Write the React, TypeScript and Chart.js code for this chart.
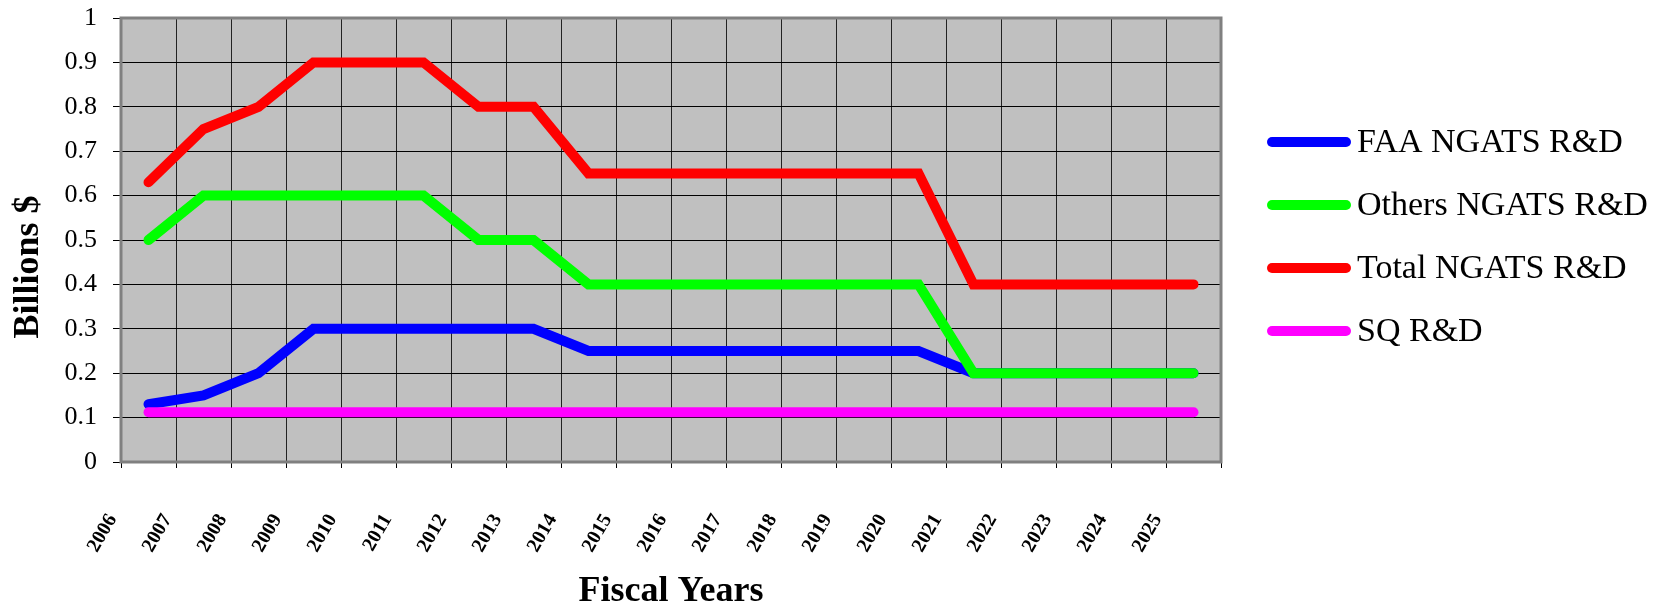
import React, { useEffect, useRef } from "react";
import { Chart, registerables } from "chart.js";

Chart.register(...registerables);

const years = [
  "2006", "2007", "2008", "2009", "2010", "2011", "2012", "2013", "2014", "2015",
  "2016", "2017", "2018", "2019", "2020", "2021", "2022", "2023", "2024", "2025",
];
const faaNgats = [0.13, 0.15, 0.2, 0.3, 0.3, 0.3, 0.3, 0.3, 0.25, 0.25, 0.25, 0.25, 0.25, 0.25, 0.25, 0.2, 0.2, 0.2, 0.2, 0.2];
const othersNgats = [0.5, 0.6, 0.6, 0.6, 0.6, 0.6, 0.5, 0.5, 0.4, 0.4, 0.4, 0.4, 0.4, 0.4, 0.4, 0.2, 0.2, 0.2, 0.2, 0.2];
const totalNgats = [0.63, 0.75, 0.8, 0.9, 0.9, 0.9, 0.8, 0.8, 0.65, 0.65, 0.65, 0.65, 0.65, 0.65, 0.65, 0.4, 0.4, 0.4, 0.4, 0.4];
const sqRD = [0.112, 0.112, 0.112, 0.112, 0.112, 0.112, 0.112, 0.112, 0.112, 0.112, 0.112, 0.112, 0.112, 0.112, 0.112, 0.112, 0.112, 0.112, 0.112, 0.112];

const seriesNames = ["FAA NGATS R&D", "Others NGATS R&D", "Total NGATS R&D", "SQ R&D"];
const seriesColors = ["#0000ff", "#00ff00", "#ff0000", "#ff00ff"];

const FONT = "'Liberation Serif', 'Times New Roman', serif";

const plotPlugin = {
  id: "plotDecor",
  beforeDraw(chart: any) {
    const { ctx, chartArea } = chart;
    const { left, top, right, bottom } = chartArea;
    ctx.save();
    ctx.fillStyle = "#ffffff";
    ctx.fillRect(0, 0, chart.width, chart.height);
    ctx.fillStyle = "#c0c0c0";
    ctx.fillRect(left, top, right - left, bottom - top);
    ctx.restore();
  },
  beforeDatasetsDraw(chart: any) {
    const { ctx, chartArea } = chart;
    const { left, top, right, bottom } = chartArea;
    ctx.save();
    ctx.strokeStyle = "#808080";
    ctx.lineWidth = 3;
    ctx.strokeRect(left, top, right - left, bottom - top);
    ctx.restore();
  },
  afterDraw(chart: any) {
    const { ctx } = chart;
    ctx.save();
    const x0 = 1272;
    const x1 = 1346;
    const startY = 142;
    const gap = 63;
    seriesNames.forEach((name, i) => {
      const y = startY + i * gap;
      ctx.strokeStyle = seriesColors[i];
      ctx.lineWidth = 10;
      ctx.lineCap = "round";
      ctx.beginPath();
      ctx.moveTo(x0, y);
      ctx.lineTo(x1, y);
      ctx.stroke();
      ctx.fillStyle = "#000000";
      ctx.font = `34px ${FONT}`;
      ctx.textBaseline = "middle";
      ctx.textAlign = "left";
      ctx.fillText(name, 1357, y + 1);
    });
    ctx.restore();
  },
};

export default function App() {
  const canvasRef = useRef<HTMLCanvasElement | null>(null);

  useEffect(() => {
    document.body.style.margin = "0";
    const canvas = canvasRef.current;
    if (!canvas) return;
    const chart = new Chart(canvas, {
      type: "line",
      data: {
        labels: years,
        datasets: [faaNgats, othersNgats, totalNgats, sqRD].map((data, i) => ({
          label: seriesNames[i],
          data,
          borderColor: seriesColors[i],
          backgroundColor: seriesColors[i],
          borderWidth: 10,
          pointRadius: 0,
          tension: 0,
          fill: false,
          borderCapStyle: "round" as const,
          order: 4 - i,
        })),
      },
      options: {
        animation: false,
        responsive: false,
        layout: { padding: { top: 18, right: 456, left: 0, bottom: 0 } },
        plugins: {
          legend: { display: false },
          tooltip: { enabled: false },
        },
        scales: {
          x: {
            type: "category",
            offset: true,
            grid: {
              offset: true,
              color: "#222222",
              lineWidth: 1,
              drawTicks: true,
              tickLength: 6,
              tickColor: "#000000",
            },
            border: { display: false },
            ticks: {
              autoSkip: false,
              minRotation: 60,
              maxRotation: 60,
              labelOffset: -36,
              padding: 42,
              color: "#000000",
              font: { family: FONT, size: 20, weight: "bold" },
            },
            title: {
              display: true,
              text: "Fiscal Years",
              color: "#000000",
              font: { family: FONT, size: 36, weight: "bold", lineHeight: 0.8 },
              padding: { top: 0, bottom: 0 },
            },
            afterFit: (scale: any) => {
              scale.height = 144;
            },
          },
          y: {
            min: 0,
            max: 1,
            grid: {
              color: "#000000",
              lineWidth: 1,
              drawTicks: true,
              tickLength: 8,
              tickColor: "#000000",
            },
            border: { display: false },
            ticks: {
              stepSize: 0.1,
              padding: 16,
              color: "#000000",
              font: { family: FONT, size: 26, lineHeight: 0.05 },
              callback: (v: any) => String(Number(Number(v).toFixed(1))),
            },
            title: {
              display: true,
              text: "Billions $\u2003\u2002",
              color: "#000000",
              font: { family: FONT, size: 36, weight: "bold", lineHeight: 1 },
              padding: { top: 11, bottom: 0 },
            },
            afterFit: (scale: any) => {
              scale.width = 121;
            },
          },
        },
      },
      plugins: [plotPlugin],
    });
    return () => chart.destroy();
  }, []);

  return (
    <div style={{ width: 1677, height: 606 }}>
      <canvas ref={canvasRef} width={1677} height={606} />
    </div>
  );
}
